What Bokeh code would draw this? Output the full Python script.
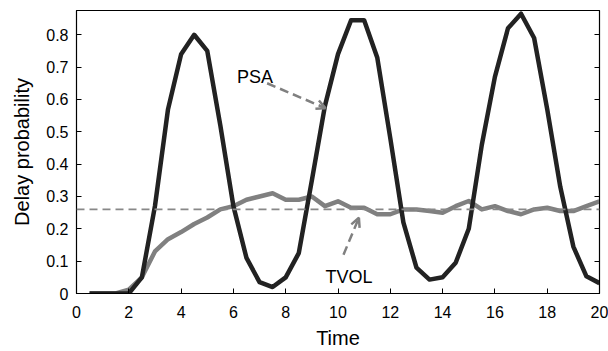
from bokeh.plotting import figure
from bokeh.models import (Range1d, LinearAxis, Span, Arrow, OpenHead, Label, FixedTicker,
                          CustomLabelingPolicy)
from bokeh.embed import file_html
from bokeh.resources import INLINE

# ---- data ----
time = [0.5, 1.0, 1.5, 2.0, 2.5, 3.0, 3.5, 4.0, 4.5, 5.0, 5.5, 6.0, 6.5, 7.0, 7.5, 8.0,
        8.5, 9.0, 9.5, 10.0, 10.5, 11.0, 11.5, 12.0, 12.5, 13.0, 13.5, 14.0, 14.5, 15.0,
        15.5, 16.0, 16.5, 17.0, 17.5, 18.0, 18.5, 19.0, 19.5, 20.0]
psa = [0, 0, 0, 0, 0.05, 0.27, 0.57, 0.74, 0.80, 0.75, 0.52, 0.27, 0.11, 0.035, 0.02, 0.05,
       0.125, 0.35, 0.58, 0.74, 0.845, 0.845, 0.73, 0.48, 0.22, 0.08, 0.043, 0.05, 0.095, 0.20,
       0.46, 0.67, 0.82, 0.865, 0.79, 0.57, 0.33, 0.145, 0.053, 0.032]
tvol = [0, 0, 0, 0.012, 0.05, 0.13, 0.168, 0.19, 0.215, 0.235, 0.26, 0.27, 0.29, 0.30, 0.31, 0.29,
        0.29, 0.30, 0.27, 0.285, 0.265, 0.265, 0.245, 0.245, 0.26, 0.26, 0.255, 0.25, 0.27, 0.286,
        0.26, 0.27, 0.255, 0.245, 0.26, 0.265, 0.255, 0.255, 0.27, 0.285]
mean_level = 0.26
x_ticks = [0, 2, 4, 6, 8, 10, 12, 14, 16, 18, 20]
y_ticks = [0, 0.1, 0.2, 0.3, 0.4, 0.5, 0.6, 0.7, 0.8]

# annotations (data coordinates)
psa_label = ("PSA", 6.14, 0.668)
psa_arrow = (7.29, 0.650, 9.52, 0.573)
tvol_label = ("TVOL", 9.52, 0.050)
tvol_arrow = (10.21, 0.120, 10.80, 0.234)

FONT = "Liberation Sans"

p = figure(width=608, height=351, output_backend="svg", toolbar_location=None,
           x_range=Range1d(0, 20), y_range=Range1d(0, 0.875),
           min_border_left=76, min_border_right=9, min_border_top=10, min_border_bottom=57)
p.background_fill_color = "white"
p.border_fill_color = "white"
p.outline_line_color = "black"
p.outline_line_width = 1.2
p.grid.visible = False

for ax in (p.xaxis[0], p.yaxis[0]):
    ax.major_tick_in = 5
    ax.major_tick_out = 0
    ax.minor_tick_in = 0
    ax.minor_tick_out = 0
    ax.axis_line_color = "black"
    ax.major_tick_line_color = "black"
    ax.major_label_text_font = FONT
    ax.major_label_text_font_size = "16px"
    ax.major_label_text_color = "black"
    ax.axis_label_text_font = FONT
    ax.axis_label_text_font_size = "20px"
    ax.axis_label_text_font_style = "normal"
    ax.axis_label_text_color = "black"

p.xaxis[0].ticker = FixedTicker(ticks=x_ticks)
p.yaxis[0].ticker = FixedTicker(ticks=y_ticks)
p.yaxis[0].major_label_overrides = {0: "0"}
p.xaxis[0].axis_label = "Time"
p.yaxis[0].axis_label = "Delay probability"
p.xaxis[0].major_label_standoff = 12
p.xaxis[0].axis_label_standoff = 6
p.yaxis[0].major_label_standoff = 8
p.yaxis[0].axis_label_standoff = 10

right = LinearAxis(ticker=FixedTicker(ticks=y_ticks), major_tick_in=5, major_tick_out=0,
                   minor_tick_in=0, minor_tick_out=0,
                   major_label_policy=CustomLabelingPolicy(code="return new Set()"),
                   major_label_text_font_size="1px",
                   major_label_standoff=0, axis_line_color="black")
p.add_layout(right, "right")

p.add_layout(Span(location=mean_level, dimension="width", line_color="#888888",
                  line_width=1.6, line_dash="8 5"))

p.line(time, tvol, line_color="#808080", line_width=4.5, line_join="round")
p.line(time, psa, line_color="#222222", line_width=4.5, line_join="round")

for (txt, lx, ly) in (psa_label, tvol_label):
    p.add_layout(Label(x=lx, y=ly, text=txt, text_font=FONT, text_font_size="18px",
                       text_color="black", text_baseline="alphabetic", text_align="left"))

for (x0, y0, x1, y1) in (psa_arrow, tvol_arrow):
    p.add_layout(Arrow(x_start=x0, y_start=y0, x_end=x1, y_end=y1,
                       line_color="#808080", line_width=2.5, line_dash="9 5",
                       end=OpenHead(size=9, line_color="#808080", line_width=2.5)))

open("out.html", "w").write(file_html(p, INLINE))
